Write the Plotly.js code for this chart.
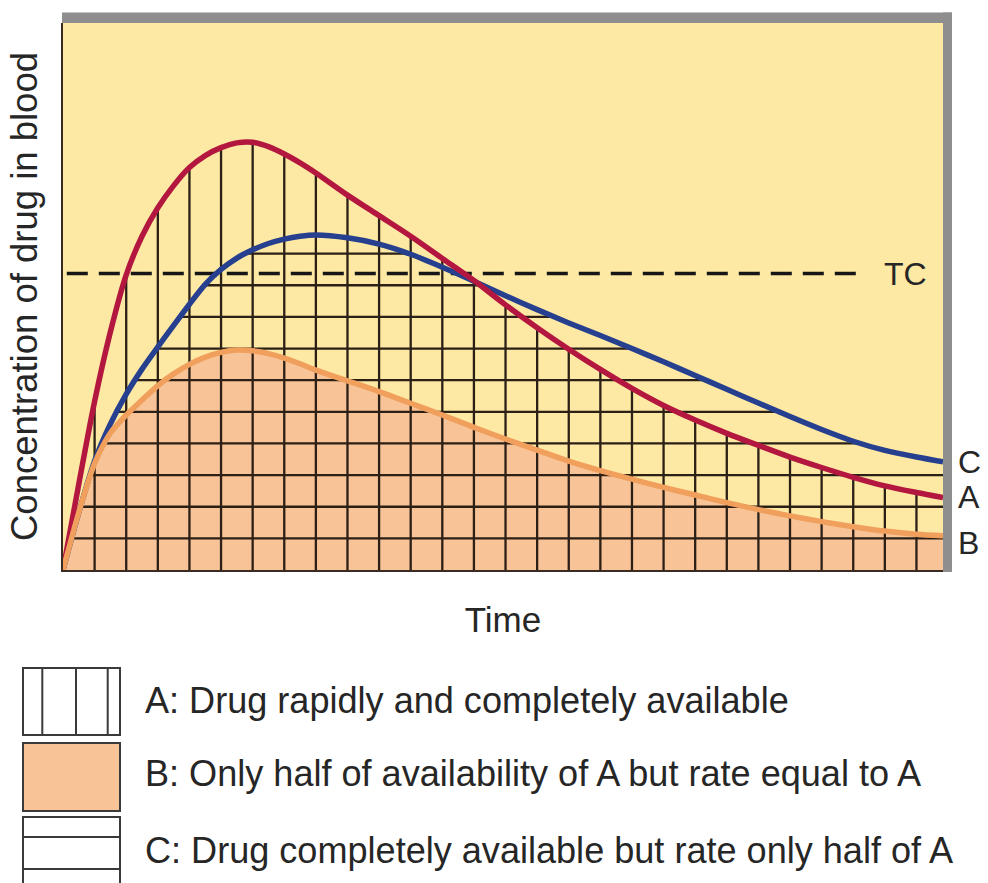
<!DOCTYPE html>
<html><head><meta charset="utf-8">
<script src="https://cdn.plot.ly/plotly-3.0.1.min.js"></script>
<style>html,body{margin:0;padding:0;background:#fff;} #chart{width:988px;height:883px;}</style>
</head><body><div id="chart"></div>
<script>
// ---- data ----
const time   = [0, 0.5, 1, 1.5, 2, 2.5, 3, 3.5, 4, 4.5, 5, 5.5, 6, 6.5, 7, 7.5, 8, 9, 10, 11, 12, 13, 14, 15, 16, 17, 18, 19, 20, 21, 22, 23, 24, 25, 26, 27, 27.84];
const curveA = [0, 2.72, 5.33, 7.53, 9.33, 10.55, 11.45, 12.15, 12.72, 13.10, 13.35, 13.50, 13.52, 13.38, 13.15, 12.87, 12.55, 11.85, 11.20, 10.55, 9.85, 9.15, 8.38, 7.66, 6.98, 6.34, 5.74, 5.20, 4.74, 4.32, 3.94, 3.57, 3.24, 2.93, 2.66, 2.45, 2.29];
const curveB = [0, 1.82, 3.37, 4.33, 4.90, 5.37, 5.83, 6.20, 6.50, 6.73, 6.88, 6.95, 6.93, 6.84, 6.70, 6.52, 6.32, 5.98, 5.64, 5.27, 4.90, 4.51, 4.14, 3.79, 3.44, 3.14, 2.87, 2.61, 2.37, 2.13, 1.91, 1.71, 1.53, 1.37, 1.23, 1.13, 1.08];
const curveC = [0, 1.82, 3.45, 4.62, 5.56, 6.35, 7.05, 7.73, 8.40, 9.03, 9.50, 9.86, 10.12, 10.32, 10.46, 10.55, 10.59, 10.50, 10.30, 9.98, 9.57, 9.13, 8.67, 8.23, 7.81, 7.41, 7.00, 6.58, 6.15, 5.71, 5.28, 4.85, 4.44, 4.07, 3.78, 3.57, 3.42];
const thresholdTC = 9.37;
const tcStart = 0.12, tcEnd = 25.15;
const gridTimes  = [1,2,3,4,5,6,7,8,9,10,11,12,13,14,15,16,17,18,19,20,21,22,23,24,25,26,27];
const gridLevels = [1,2,3,4,5,6,7,8,9,10];
const curveNames = ['A', 'B', 'C'];
const tcLabel = 'TC';
const xTitle = 'Time';
const yTitle = 'Concentration of drug in blood';
const legendTexts = [
  'A: Drug rapidly and completely available',
  'B: Only half of availability of A but rate equal to A',
  'C: Drug completely available but rate only half of A'
];

// ---- helpers ----
function valueAt(xs, ys, x) {
  for (let i = 1; i < xs.length; i++) {
    if (x <= xs[i]) {
      const f = (x - xs[i-1]) / (xs[i] - xs[i-1]);
      return ys[i-1] + f * (ys[i] - ys[i-1]);
    }
  }
  return ys[ys.length - 1];
}
function crossings(xs, ys, level) {
  let left = null, right = null;
  for (let i = 1; i < xs.length; i++) {
    if (left === null && ys[i-1] < level && ys[i] >= level)
      left = xs[i-1] + (level - ys[i-1]) / (ys[i] - ys[i-1]) * (xs[i] - xs[i-1]);
    if (left !== null && ys[i-1] >= level && ys[i] < level)
      right = xs[i-1] + (ys[i-1] - level) / (ys[i-1] - ys[i]) * (xs[i] - xs[i-1]);
  }
  if (right === null) right = xs[xs.length - 1];
  return [left, right];
}

// vertical hatching under A
const vx = [], vy = [];
gridTimes.forEach(t => { vx.push(t, t, null); vy.push(0, valueAt(time, curveA, t), null); });
// horizontal hatching under C
const hx = [], hy = [];
gridLevels.forEach(k => { const c = crossings(time, curveC, k); hx.push(c[0], c[1], null); hy.push(k, k, null); });

// ---- styles ----
const FONT = 'Liberation Sans, Arial, Helvetica, sans-serif';
const TXT = '#262626';
const YELLOW = '#fde9a3', PEACH = '#f8c396', ORANGE = '#f09f5c', RED = '#b3173f', BLUE = '#263f8f', GRID = '#2b1f16', GRAY = '#8e8e8e';
const L = 63, R = 943, T = 23, B = 570;
const px = x => (x - L) / (R - L);
const py = y => (B - y) / (B - T);

const traces = [
  {x: time, y: curveB, type: 'scatter', mode: 'lines', fill: 'tozeroy', fillcolor: PEACH, line: {width: 0, shape: 'spline', smoothing: 0.8}, hoverinfo: 'skip'},
  {x: vx, y: vy, type: 'scatter', mode: 'lines', line: {color: GRID, width: 2.3}, hoverinfo: 'skip'},
  {x: hx, y: hy, type: 'scatter', mode: 'lines', line: {color: GRID, width: 2.3}, hoverinfo: 'skip'},
  {x: [tcStart, tcEnd], y: [thresholdTC, thresholdTC], type: 'scatter', mode: 'lines', line: {color: '#161616', width: 3.5, dash: '21px,11px'}, hoverinfo: 'skip'},
  {x: time, y: curveC, name: curveNames[2], type: 'scatter', mode: 'lines', line: {color: BLUE, width: 5.5, shape: 'spline', smoothing: 0.8}},
  {x: time, y: curveA, name: curveNames[0], type: 'scatter', mode: 'lines', line: {color: RED, width: 5.5, shape: 'spline', smoothing: 0.8}},
  {x: time, y: curveB, name: curveNames[1], type: 'scatter', mode: 'lines', line: {color: ORANGE, width: 5.5, shape: 'spline', smoothing: 0.8}}
];

const boxLine = {color: '#3a3a3a', width: 2};
const shapes = [
  {type: 'rect', xref: 'paper', yref: 'paper', x0: px(62), x1: px(952), y0: py(23), y1: py(12.5), fillcolor: GRAY, line: {width: 0}},
  {type: 'rect', xref: 'paper', yref: 'paper', x0: px(943), x1: px(952), y0: py(572), y1: py(12.5), fillcolor: GRAY, line: {width: 0}},
  // legend swatch A
  {type: 'rect', xref: 'paper', yref: 'paper', x0: px(23), x1: px(120), y0: py(668), y1: py(735), fillcolor: '#ffffff', line: boxLine},
  ...[42.3, 76, 107.7].map(xx => ({type: 'line', xref: 'paper', yref: 'paper', x0: px(xx), x1: px(xx), y0: py(668), y1: py(735), line: boxLine})),
  // legend swatch B
  {type: 'rect', xref: 'paper', yref: 'paper', x0: px(23), x1: px(120), y0: py(743), y1: py(811), fillcolor: PEACH, line: boxLine},
  // legend swatch C
  {type: 'rect', xref: 'paper', yref: 'paper', x0: px(23), x1: px(120), y0: py(817), y1: py(900), fillcolor: '#ffffff', line: boxLine},
  ...[837, 869].map(yy => ({type: 'line', xref: 'paper', yref: 'paper', x0: px(23), x1: px(120), y0: py(yy), y1: py(yy), line: boxLine}))
];

const annotations = [
  {text: tcLabel, xref: 'paper', yref: 'y', x: px(882), y: thresholdTC, xanchor: 'left', yanchor: 'middle', showarrow: false, font: {family: FONT, size: 32, color: TXT}},
  {text: curveNames[2], xref: 'paper', yref: 'paper', x: px(956), y: py(462), xanchor: 'left', yanchor: 'middle', showarrow: false, font: {family: FONT, size: 32, color: TXT}},
  {text: curveNames[0], xref: 'paper', yref: 'paper', x: px(956), y: py(497), xanchor: 'left', yanchor: 'middle', showarrow: false, font: {family: FONT, size: 32, color: TXT}},
  {text: curveNames[1], xref: 'paper', yref: 'paper', x: px(956), y: py(543), xanchor: 'left', yanchor: 'middle', showarrow: false, font: {family: FONT, size: 32, color: TXT}},
  ...legendTexts.map((t, i) => ({text: t, xref: 'paper', yref: 'paper', x: px(143), y: py([700, 773, 850][i]), xanchor: 'left', yanchor: 'middle', showarrow: false, font: {family: FONT, size: 36.1, color: TXT}}))
];

const layout = {
  width: 988, height: 883,
  margin: {l: L, r: 988 - R, t: T, b: 883 - B, pad: 0},
  paper_bgcolor: '#ffffff', plot_bgcolor: YELLOW,
  showlegend: false, hovermode: false,
  font: {family: FONT, color: TXT},
  xaxis: {range: [0, 27.84], showgrid: false, zeroline: false, showticklabels: false, ticks: '',
          showline: true, linecolor: '#3a2c22', linewidth: 2,
          title: {text: xTitle, font: {family: FONT, size: 35, color: TXT}, standoff: 36}},
  yaxis: {range: [0, 17.29], showgrid: false, zeroline: false, showticklabels: false, ticks: '',
          showline: true, linecolor: '#3a2c22', linewidth: 2,
          title: {text: yTitle, font: {family: FONT, size: 36.5, color: TXT}, standoff: 12}},
  shapes: shapes,
  annotations: annotations
};

Plotly.newPlot('chart', traces, layout, {staticPlot: true, displayModeBar: false});
</script></body></html>
